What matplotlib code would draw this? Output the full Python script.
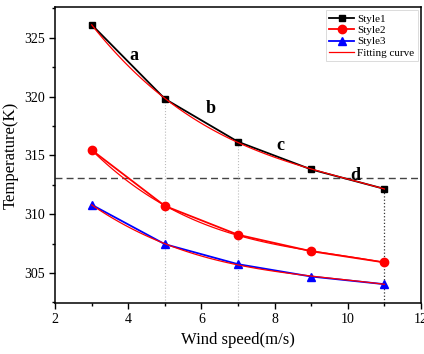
import numpy as np
import matplotlib.pyplot as plt
from matplotlib.ticker import MultipleLocator

plt.rcParams['font.family'] = ['Liberation Serif', 'DejaVu Serif']

# wind speed (m/s) and temperature (K) for each style
wind = [3, 5, 7, 9, 11]
style1 = [326.1, 319.8, 316.15, 313.8, 312.15]
style2 = [315.45, 310.7, 308.25, 306.85, 305.9]
style3 = [310.8, 307.45, 305.75, 304.7, 304.05]
limit_temp = 313.1

labels = ['a', 'b', 'c', 'd']
label_x = [4.15, 6.25, 8.15, 10.2]
label_y = [323.5, 319.0, 315.8, 313.25]

fig = plt.figure(figsize=(4.24, 3.54), dpi=100)
ax = fig.add_axes([0.13, 0.144, 0.863, 0.836])

# guide lines
ax.axhline(limit_temp, color='#444444', ls=(0, (5, 3)), lw=1.0, zorder=1)
for xv, yv in zip(wind[1:3], style1[1:3]):
    ax.plot([xv, xv], [302.45, yv], color='#bbbbbb', ls=':', lw=0.8, zorder=1)
ax.plot([wind[-1], wind[-1]], [302.45, style1[-1]], color='#333333', ls=':', lw=0.9, zorder=1)

ax.plot(wind, style1, color='black', marker='s', ms=5, lw=1.3, label='Style1', zorder=3)
ax.plot(wind, style2, color='red', marker='o', ms=6, lw=1.3, label='Style2', zorder=3)
ax.plot(wind, style3, color='blue', marker='^', ms=6, lw=1.3, label='Style3', zorder=3)

# fitted curves
xs = np.linspace(3, 11, 100)
for i, ys in enumerate([style1, style2, style3]):
    c = np.polyfit(wind, ys, 3)
    ax.plot(xs, np.polyval(c, xs), color='red', lw=0.9, zorder=4,
            label='Fitting curve' if i == 0 else None)

for t, xv, yv in zip(labels, label_x, label_y):
    ax.text(xv, yv, t, fontsize=13, fontweight='bold', ha='center', va='center')

ax.set_xlim(2, 12)
ax.set_ylim(302.45, 327.6)
ax.xaxis.set_major_locator(MultipleLocator(2))
ax.xaxis.set_minor_locator(MultipleLocator(1))
ax.yaxis.set_major_locator(MultipleLocator(5))
ax.yaxis.set_minor_locator(MultipleLocator(2.5))
ax.tick_params(which='major', length=4, width=1, labelsize=10)
ax.tick_params(which='minor', length=2.5, width=1)
for s in ax.spines.values():
    s.set_linewidth(1.1)

ax.set_xlabel('Wind speed(m/s)', fontsize=12)
ax.set_ylabel('Temperature(K)', fontsize=12)

leg = ax.legend(loc='upper right', fontsize=8, frameon=True, fancybox=False,
                handlelength=2.2, borderpad=0.3, labelspacing=0.15,
                handletextpad=0.3, borderaxespad=0.3)
leg.get_frame().set_edgecolor('#cccccc')
leg.get_frame().set_linewidth(0.6)

fig.savefig('out.png', dpi=100)
